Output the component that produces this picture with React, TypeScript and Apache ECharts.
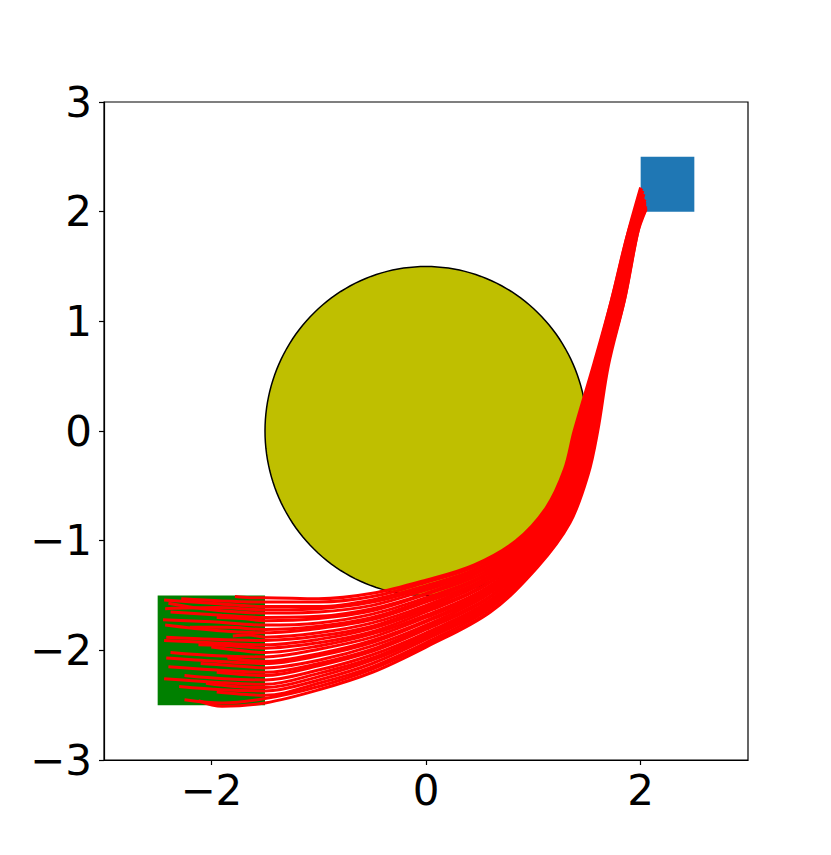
import React, { useEffect, useRef } from "react";
import * as echarts from "echarts";

const xTickValues = [-2, 0, 2];
const yTickValues = [-3, -2, -1, 0, 1, 2, 3];
const obstacle = [0, 0, 1.5]; // cx, cy, r
const startRegion = [-2.5, -2.5, -1.5, -1.5]; // x0, y0, x1, y1
const goalRegion = [2.0, 2.0, 2.5, 2.5];

const trajectories: number[][][] = [
  [[-1.78,-1.51],[-1.64,-1.52],[-1.5,-1.52],[-1.0,-1.53],[-0.5,-1.48],[0,-1.36],[0.45,-1.22],[0.84,-1.00],[1.12,-0.70],[1.29,-0.35],[1.38,0],[1.56,0.6],[1.73,1.2],[1.88,1.8],[2.0,2.22]],
  [[-2.28,-1.53],[-1.9,-1.55],[-1.5,-1.56],[-1.0,-1.56],[-0.5,-1.51],[0,-1.38],[0.45,-1.24],[0.85,-1.01],[1.13,-0.71],[1.30,-0.35],[1.39,0],[1.57,0.6],[1.73,1.2],[1.88,1.8],[2.01,2.18]],
  [[-2.44,-1.54],[-2.0,-1.57],[-1.5,-1.60],[-1.0,-1.60],[-0.5,-1.54],[0,-1.41],[0.46,-1.26],[0.86,-1.02],[1.14,-0.71],[1.31,-0.35],[1.40,0],[1.57,0.6],[1.74,1.2],[1.89,1.8],[2.0,2.2]],
  [[-2.43,-1.62],[-1.95,-1.61],[-1.5,-1.63],[-1.0,-1.62],[-0.5,-1.56],[0,-1.43],[0.46,-1.27],[0.86,-1.03],[1.14,-0.72],[1.32,-0.35],[1.40,0],[1.58,0.6],[1.74,1.2],[1.89,1.8],[2.02,2.15]],
  [[-2.40,-1.57],[-2.0,-1.63],[-1.5,-1.66],[-1.0,-1.65],[-0.5,-1.59],[0,-1.45],[0.47,-1.29],[0.87,-1.04],[1.15,-0.72],[1.33,-0.36],[1.41,0],[1.58,0.6],[1.75,1.2],[1.89,1.8],[2.01,2.21]],
  [[-2.38,-1.65],[-1.9,-1.68],[-1.5,-1.70],[-1.0,-1.69],[-0.5,-1.62],[0,-1.48],[0.47,-1.30],[0.88,-1.05],[1.16,-0.73],[1.34,-0.36],[1.42,0],[1.59,0.6],[1.75,1.2],[1.90,1.8],[2.02,2.12]],
  [[-1.95,-1.70],[-1.72,-1.71],[-1.5,-1.73],[-1.0,-1.71],[-0.5,-1.64],[0,-1.49],[0.48,-1.32],[0.89,-1.06],[1.17,-0.73],[1.34,-0.36],[1.43,0],[1.59,0.6],[1.76,1.2],[1.90,1.8],[2.01,2.17]],
  [[-2.45,-1.72],[-2.0,-1.74],[-1.5,-1.77],[-1.0,-1.75],[-0.5,-1.67],[0,-1.52],[0.49,-1.34],[0.89,-1.07],[1.18,-0.74],[1.35,-0.36],[1.44,0],[1.60,0.6],[1.76,1.2],[1.90,1.8],[2.03,2.1]],
  [[-2.2,-1.79],[-1.85,-1.79],[-1.5,-1.81],[-1.0,-1.78],[-0.5,-1.70],[0,-1.54],[0.49,-1.35],[0.90,-1.08],[1.19,-0.74],[1.36,-0.36],[1.45,0],[1.60,0.6],[1.77,1.2],[1.91,1.8],[2.02,2.14]],
  [[-2.43,-1.77],[-1.95,-1.82],[-1.5,-1.84],[-1.0,-1.80],[-0.5,-1.72],[0,-1.56],[0.50,-1.37],[0.91,-1.08],[1.19,-0.75],[1.37,-0.37],[1.45,0],[1.61,0.6],[1.77,1.2],[1.91,1.8],[2.03,2.08]],
  [[-1.8,-1.87],[-1.65,-1.86],[-1.5,-1.88],[-1.0,-1.84],[-0.5,-1.75],[0,-1.59],[0.50,-1.38],[0.92,-1.09],[1.20,-0.75],[1.37,-0.37],[1.46,0],[1.61,0.6],[1.77,1.2],[1.91,1.8],[2.02,2.19]],
  [[-2.42,-1.88],[-1.98,-1.90],[-1.5,-1.91],[-1.0,-1.87],[-0.5,-1.78],[0,-1.61],[0.51,-1.40],[0.92,-1.10],[1.21,-0.76],[1.38,-0.37],[1.47,0],[1.62,0.6],[1.78,1.2],[1.92,1.8],[2.03,2.06]],
  [[-2.44,-1.91],[-2.0,-1.93],[-1.5,-1.95],[-1.0,-1.90],[-0.5,-1.80],[0,-1.63],[0.52,-1.42],[0.93,-1.11],[1.22,-0.76],[1.39,-0.37],[1.48,0],[1.62,0.6],[1.78,1.2],[1.92,1.8],[2.02,2.13]],
  [[-2.12,-1.95],[-1.8,-1.96],[-1.5,-1.98],[-1.0,-1.93],[-0.5,-1.83],[0,-1.65],[0.52,-1.43],[0.94,-1.12],[1.23,-0.77],[1.40,-0.38],[1.49,0],[1.63,0.6],[1.79,1.2],[1.92,1.8],[2.04,2.05]],
  [[-2.0,-1.97],[-1.75,-2.0],[-1.5,-2.02],[-1.0,-1.96],[-0.5,-1.85],[0,-1.68],[0.53,-1.45],[0.95,-1.13],[1.23,-0.77],[1.41,-0.38],[1.49,0],[1.63,0.6],[1.79,1.2],[1.93,1.8],[2.03,2.1]],
  [[-2.38,-2.02],[-1.95,-2.05],[-1.5,-2.06],[-1.0,-1.99],[-0.5,-1.88],[0,-1.70],[0.53,-1.47],[0.95,-1.14],[1.24,-0.78],[1.41,-0.38],[1.50,0],[1.64,0.6],[1.80,1.2],[1.93,1.8],[2.04,2.04]],
  [[-1.85,-2.07],[-1.68,-2.09],[-1.5,-2.10],[-1.0,-2.03],[-0.5,-1.91],[0,-1.73],[0.54,-1.48],[0.96,-1.15],[1.25,-0.78],[1.42,-0.38],[1.51,0],[1.64,0.6],[1.80,1.2],[1.93,1.8],[2.03,2.16]],
  [[-2.42,-2.07],[-1.95,-2.10],[-1.5,-2.12],[-1.0,-2.05],[-0.5,-1.93],[0,-1.74],[0.54,-1.50],[0.97,-1.15],[1.26,-0.79],[1.43,-0.38],[1.52,0],[1.65,0.6],[1.81,1.2],[1.94,1.8],[2.04,2.07]],
  [[-2.1,-2.12],[-1.8,-2.14],[-1.5,-2.16],[-1.0,-2.09],[-0.5,-1.96],[0,-1.77],[0.55,-1.51],[0.98,-1.16],[1.27,-0.79],[1.44,-0.39],[1.53,0],[1.65,0.6],[1.81,1.2],[1.94,1.8],[2.03,2.12]],
  [[-2.4,-2.15],[-1.95,-2.18],[-1.5,-2.20],[-1.0,-2.12],[-0.5,-1.99],[0,-1.79],[0.56,-1.53],[0.98,-1.17],[1.28,-0.80],[1.45,-0.39],[1.54,0],[1.66,0.6],[1.82,1.2],[1.94,1.8],[2.05,2.03]],
  [[-1.95,-2.2],[-1.72,-2.22],[-1.5,-2.23],[-1.0,-2.14],[-0.5,-2.01],[0,-1.81],[0.56,-1.54],[0.99,-1.18],[1.28,-0.80],[1.45,-0.39],[1.54,0],[1.66,0.6],[1.82,1.2],[1.95,1.8],[2.04,2.09]],
  [[-2.25,-2.23],[-1.88,-2.26],[-1.5,-2.27],[-1.0,-2.18],[-0.5,-2.04],[0,-1.84],[0.57,-1.56],[1.00,-1.19],[1.29,-0.81],[1.46,-0.39],[1.55,0],[1.67,0.6],[1.82,1.2],[1.95,1.8],[2.05,2.05]],
  [[-2.44,-2.26],[-1.98,-2.29],[-1.5,-2.31],[-1.0,-2.21],[-0.5,-2.07],[0,-1.86],[0.57,-1.58],[1.01,-1.20],[1.30,-0.81],[1.47,-0.39],[1.56,0],[1.67,0.6],[1.83,1.2],[1.95,1.8],[2.04,2.11]],
  [[-2.05,-2.3],[-1.78,-2.33],[-1.5,-2.34],[-1.0,-2.24],[-0.5,-2.09],[0,-1.88],[0.58,-1.59],[1.01,-1.21],[1.31,-0.82],[1.48,-0.40],[1.57,0],[1.68,0.6],[1.83,1.2],[1.96,1.8],[2.05,2.03]],
  [[-2.3,-2.33],[-1.9,-2.36],[-1.5,-2.37],[-1.0,-2.27],[-0.5,-2.12],[0,-1.90],[0.58,-1.61],[1.02,-1.22],[1.32,-0.82],[1.48,-0.40],[1.58,0],[1.68,0.6],[1.84,1.2],[1.96,1.8],[2.04,2.08]],
  [[-1.95,-2.38],[-1.72,-2.40],[-1.5,-2.41],[-1.0,-2.30],[-0.5,-2.15],[0,-1.93],[0.59,-1.62],[1.03,-1.22],[1.32,-0.83],[1.49,-0.40],[1.58,0],[1.69,0.6],[1.84,1.2],[1.96,1.8],[2.05,2.04]],
  [[-2.25,-2.45],[-1.9,-2.48],[-1.5,-2.44],[-1.0,-2.33],[-0.5,-2.17],[0,-1.95],[0.60,-1.64],[1.03,-1.23],[1.33,-0.83],[1.50,-0.40],[1.59,0],[1.69,0.6],[1.85,1.2],[1.97,1.8],[2.04,2.06]],
  [[-2.12,-2.46],[-1.9,-2.51],[-1.5,-2.48],[-1.0,-2.36],[-0.5,-2.20],[0,-1.97],[0.60,-1.65],[1.04,-1.24],[1.34,-0.84],[1.51,-0.40],[1.60,0],[1.70,0.6],[1.85,1.2],[1.97,1.8],[2.05,2.02]],
];

const fmt = (v: number) => (v < 0 ? "\u2212" + Math.abs(v) : String(v));

export default function App() {
  const ref = useRef<HTMLDivElement>(null);
  useEffect(() => {
    document.body.style.margin = "0";
    if (!ref.current) return;
    const chart = echarts.init(ref.current, null, { renderer: "svg" });
    const rectSeries = (region: number[], color: string, z: number) => ({
      type: "custom",
      z,
      data: [region],
      encode: { x: [0, 2], y: [1, 3] },
      renderItem: (params: any, api: any) => {
        const p0 = api.coord([api.value(0), api.value(3)]);
        const p1 = api.coord([api.value(2), api.value(1)]);
        return {
          type: "rect",
          shape: { x: p0[0], y: p0[1], width: p1[0] - p0[0], height: p1[1] - p0[1] },
          style: { fill: color },
        };
      },
    });
    const option: any = {
      animation: false,
      grid: { left: 104, top: 102, width: 644, height: 658, show: true, borderColor: "#000", borderWidth: 1.2 },
      xAxis: {
        type: "value", min: -3, max: 3, interval: 1,
        splitLine: { show: false },
        axisLine: { show: true, onZero: false, lineStyle: { color: "#000", width: 1.2 } },
        axisTick: { show: true, customValues: xTickValues, length: 5, lineStyle: { color: "#000", width: 1.2 } },
        axisLabel: { customValues: xTickValues, formatter: fmt, fontSize: 42, fontFamily: "DejaVu Sans", color: "#000", margin: 9 },
      },
      yAxis: {
        type: "value", min: -3, max: 3, interval: 1,
        splitLine: { show: false },
        axisLine: { show: true, onZero: false, lineStyle: { color: "#000", width: 1.2 } },
        axisTick: { show: true, customValues: yTickValues, length: 5, lineStyle: { color: "#000", width: 1.2 } },
        axisLabel: { customValues: yTickValues, formatter: fmt, fontSize: 42, fontFamily: "DejaVu Sans", color: "#000", margin: 12 },
      },
      series: [
        {
          type: "custom",
          z: 1,
          data: [obstacle],
          encode: { x: 0, y: 1 },
          renderItem: (params: any, api: any) => {
            const cx = api.value(0), cy = api.value(1), r = api.value(2);
            const pts: number[][] = [];
            for (let i = 0; i < 180; i++) {
              const t = (i / 180) * Math.PI * 2;
              pts.push(api.coord([cx + r * Math.cos(t), cy + r * Math.sin(t)]));
            }
            return { type: "polygon", shape: { points: pts }, style: { fill: "#bfbf00", stroke: "#000", lineWidth: 1.5 } };
          },
        },
        rectSeries(startRegion, "#008000", 2),
        rectSeries(goalRegion, "#1f77b4", 2),
        ...trajectories.map((tr) => ({
          type: "line",
          z: 3,
          data: tr,
          showSymbol: false,
          smooth: 0.35,
          lineStyle: { color: "#ff0000", width: 3 },
        })),
      ],
    };
    chart.setOption(option);
    return () => chart.dispose();
  }, []);
  return <div ref={ref} style={{ width: 831, height: 855 }} />;
}
